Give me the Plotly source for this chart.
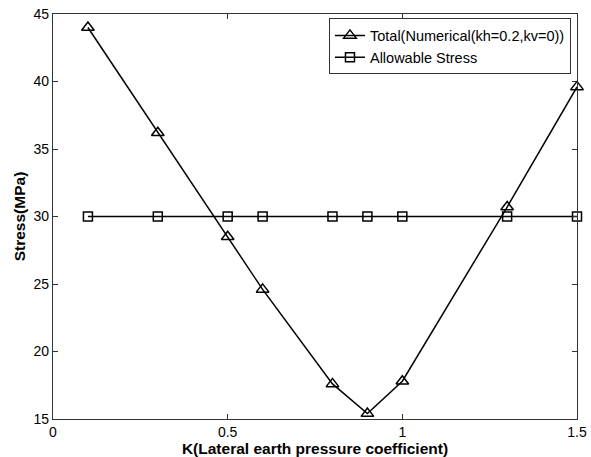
import plotly.graph_objects as go

k_values = [0.1, 0.3, 0.5, 0.6, 0.8, 0.9, 1.0, 1.3, 1.5]
total_stress = [44.0, 36.2, 28.5, 24.6, 17.6, 15.4, 17.8, 30.7, 39.6]
allowable_stress = [30, 30, 30, 30, 30, 30, 30, 30, 30]

x_ticks = [0, 0.5, 1, 1.5]
x_tick_labels = ["0", "0.5", "1", "1.5"]
y_ticks = [15, 20, 25, 30, 35, 40, 45]

font_family = "Liberation Sans, Arial, sans-serif"

fig = go.Figure()
fig.add_trace(go.Scatter(
    x=k_values, y=total_stress, mode="lines+markers",
    name="Total(Numerical(kh=0.2,kv=0))",
    line=dict(color="black", width=1.5),
    marker=dict(symbol="triangle-up-open", size=11, color="black", line=dict(width=1.5)),
    cliponaxis=False,
))
fig.add_trace(go.Scatter(
    x=k_values, y=allowable_stress, mode="lines+markers",
    name="Allowable Stress",
    line=dict(color="black", width=1.5),
    marker=dict(symbol="square-open", size=9, color="black", line=dict(width=1.5)),
    cliponaxis=False,
))

axis_common = dict(
    showline=True, linecolor="#333", linewidth=1.2, mirror="ticks",
    ticks="inside", ticklen=5, tickcolor="#333", showgrid=False, zeroline=False,
    automargin=False,
    tickfont=dict(family=font_family, size=14, color="black"),
)

fig.update_layout(
    width=591, height=457,
    autosize=False,
    margin=dict(l=53, r=14, t=14, b=38, autoexpand=False),
    paper_bgcolor="white", plot_bgcolor="white",
    font=dict(family=font_family, color="black"),
    xaxis=dict(range=[0, 1.5], tickvals=x_ticks, ticktext=x_tick_labels,
               title=dict(text="<b>K(Lateral earth pressure coefficient)</b>",
                          font=dict(size=15.5, family=font_family), standoff=3),
               **axis_common),
    yaxis=dict(range=[15, 45], tickvals=y_ticks,
               title=dict(text="<b>Stress(MPa)</b>",
                          font=dict(size=15.5, family=font_family), standoff=4),
               **axis_common),
    legend=dict(x=0.9885, y=0.9198, xanchor="right", yanchor="middle",
                bgcolor="white", bordercolor="#333", borderwidth=1,
                font=dict(family=font_family, size=14.5, color="black"),
                tracegroupgap=0, itemwidth=30),
    showlegend=True,
)

fig.write_html("out.html", config={"displayModeBar": False},
               post_script="document.body.style.margin='0';document.body.style.padding='0';")
